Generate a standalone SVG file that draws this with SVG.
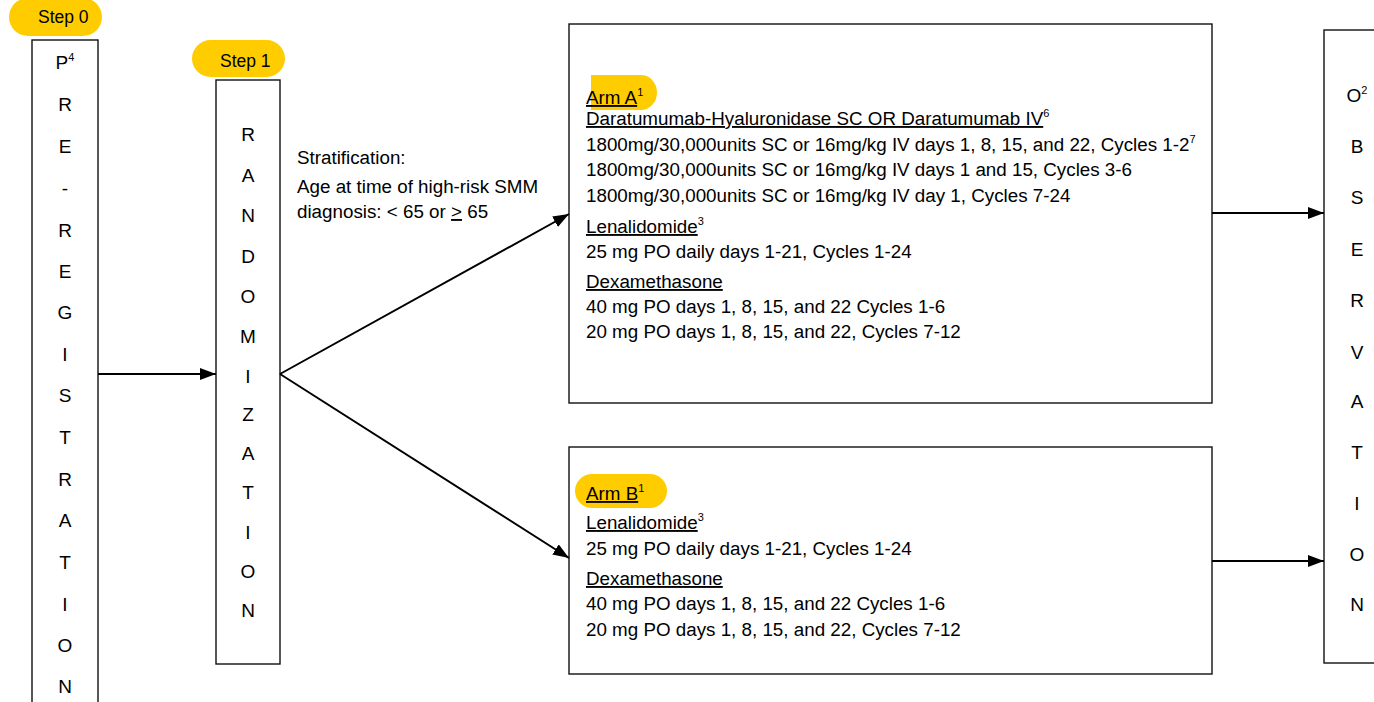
<svg xmlns="http://www.w3.org/2000/svg" width="1374" height="702" viewBox="0 0 1374 702">
<defs>
<marker id="ah" viewBox="0 0 16 12" refX="16" refY="6" markerWidth="16" markerHeight="12" markerUnits="userSpaceOnUse" orient="auto">
<path d="M0,0 L16,6 L0,12 Z" fill="#000"/>
</marker>
<style>
text{font-family:"Liberation Sans",Arial,sans-serif;fill:#000}
.box{fill:#fff;stroke:#111;stroke-width:1.4}
.pill{fill:#FFCC00}
.step{font-size:17.5px}
.v{font-size:19px;text-anchor:middle}
.t{font-size:18.8px}
.u{text-decoration:underline}
.sup{font-size:11px}
.con{stroke:#000;stroke-width:2;fill:none;marker-end:url(#ah)}
</style>
</defs>
<rect width="1374" height="702" fill="#fff"/>

<g id="step0">
<rect class="pill" x="9" y="-2" width="93" height="38" rx="19"/>
<text class="step" x="38" y="23">Step 0</text>
</g>
<g id="step1">
<rect class="pill" x="192" y="40" width="93" height="37" rx="18.5"/>
<text class="step" x="220" y="67">Step 1</text>
</g>

<g id="preregistration">
<rect class="box" x="32" y="40" width="66" height="680"/>
<text class="v" x="65" y="69">P<tspan class="sup" dy="-8">4</tspan></text>
<text class="v" x="65" y="111">R</text>
<text class="v" x="65" y="153">E</text>
<text class="v" x="65" y="195">-</text>
<text class="v" x="65" y="237">R</text>
<text class="v" x="65" y="278">E</text>
<text class="v" x="65" y="319">G</text>
<text class="v" x="65" y="361">I</text>
<text class="v" x="65" y="402">S</text>
<text class="v" x="65" y="444">T</text>
<text class="v" x="65" y="486">R</text>
<text class="v" x="65" y="527">A</text>
<text class="v" x="65" y="569">T</text>
<text class="v" x="65" y="611">I</text>
<text class="v" x="65" y="652">O</text>
<text class="v" x="65" y="693">N</text>
</g>

<g id="randomization">
<rect class="box" x="216" y="80" width="64" height="584"/>
<text class="v" x="248" y="141">R</text>
<text class="v" x="248" y="182">A</text>
<text class="v" x="248" y="222">N</text>
<text class="v" x="248" y="263">D</text>
<text class="v" x="248" y="303">O</text>
<text class="v" x="248" y="343">M</text>
<text class="v" x="248" y="383">I</text>
<text class="v" x="248" y="421">Z</text>
<text class="v" x="248" y="460">A</text>
<text class="v" x="248" y="499">T</text>
<text class="v" x="248" y="539">I</text>
<text class="v" x="248" y="578">O</text>
<text class="v" x="248" y="617">N</text>
</g>

<g id="stratification">
<text class="t" x="297" y="164">Stratification:</text>
<text class="t" x="297" y="193">Age at time of high-risk SMM</text>
<text class="t" x="297" y="218">diagnosis: &lt; 65 or <tspan class="u">&gt;</tspan> 65</text>
</g>

<g id="armA">
<rect class="box" x="569" y="24" width="643" height="379"/>
<path class="pill" d="M591,75 H641 A16,17.5 0 0 1 641,110 H591 Z"/>
<text class="t" x="586" y="104"><tspan class="u">Arm A</tspan><tspan class="sup" dy="-8">1</tspan></text>
<text class="t" x="586" y="125"><tspan class="u">Daratumumab-Hyaluronidase SC OR Daratumumab IV</tspan><tspan class="sup" dy="-8">6</tspan></text>
<text class="t" x="586" y="151">1800mg/30,000units SC or 16mg/kg IV days 1, 8, 15, and 22, Cycles 1-2<tspan class="sup" dy="-8">7</tspan></text>
<text class="t" x="586" y="176">1800mg/30,000units SC or 16mg/kg IV days 1 and 15, Cycles 3-6</text>
<text class="t" x="586" y="202">1800mg/30,000units SC or 16mg/kg IV day 1, Cycles 7-24</text>
<text class="t" x="586" y="233"><tspan class="u">Lenalidomide</tspan><tspan class="sup" dy="-8">3</tspan></text>
<text class="t" x="586" y="258">25 mg PO daily days 1-21, Cycles 1-24</text>
<text class="t" x="586" y="288"><tspan class="u">Dexamethasone</tspan></text>
<text class="t" x="586" y="313">40 mg PO days 1, 8, 15, and 22 Cycles 1-6</text>
<text class="t" x="586" y="338">20 mg PO days 1, 8, 15, and 22, Cycles 7-12</text>
</g>

<g id="armB">
<rect class="box" x="569" y="447" width="643" height="227"/>
<rect class="pill" x="575" y="474" width="92" height="34" rx="17"/>
<text class="t" x="586" y="500"><tspan class="u">Arm B</tspan><tspan class="sup" dy="-8">1</tspan></text>
<text class="t" x="586" y="529"><tspan class="u">Lenalidomide</tspan><tspan class="sup" dy="-8">3</tspan></text>
<text class="t" x="586" y="555">25 mg PO daily days 1-21, Cycles 1-24</text>
<text class="t" x="586" y="585"><tspan class="u">Dexamethasone</tspan></text>
<text class="t" x="586" y="610">40 mg PO days 1, 8, 15, and 22 Cycles 1-6</text>
<text class="t" x="586" y="636">20 mg PO days 1, 8, 15, and 22, Cycles 7-12</text>
</g>

<g id="observation">
<rect class="box" x="1324" y="30" width="70" height="633"/>
<text class="v" x="1357" y="102">O<tspan class="sup" dy="-8">2</tspan></text>
<text class="v" x="1357" y="153">B</text>
<text class="v" x="1357" y="204">S</text>
<text class="v" x="1357" y="256">E</text>
<text class="v" x="1357" y="307">R</text>
<text class="v" x="1357" y="359">V</text>
<text class="v" x="1357" y="408">A</text>
<text class="v" x="1357" y="459">T</text>
<text class="v" x="1357" y="510">I</text>
<text class="v" x="1357" y="561">O</text>
<text class="v" x="1357" y="611">N</text>
</g>

<g id="connectors">
<line class="con" x1="98" y1="374" x2="216" y2="374"/>
<line class="con" x1="280" y1="374" x2="569" y2="214"/>
<line class="con" x1="280" y1="374" x2="569" y2="558"/>
<line class="con" x1="1212" y1="213" x2="1324" y2="213"/>
<line class="con" x1="1212" y1="561" x2="1324" y2="561"/>
</g>
</svg>
